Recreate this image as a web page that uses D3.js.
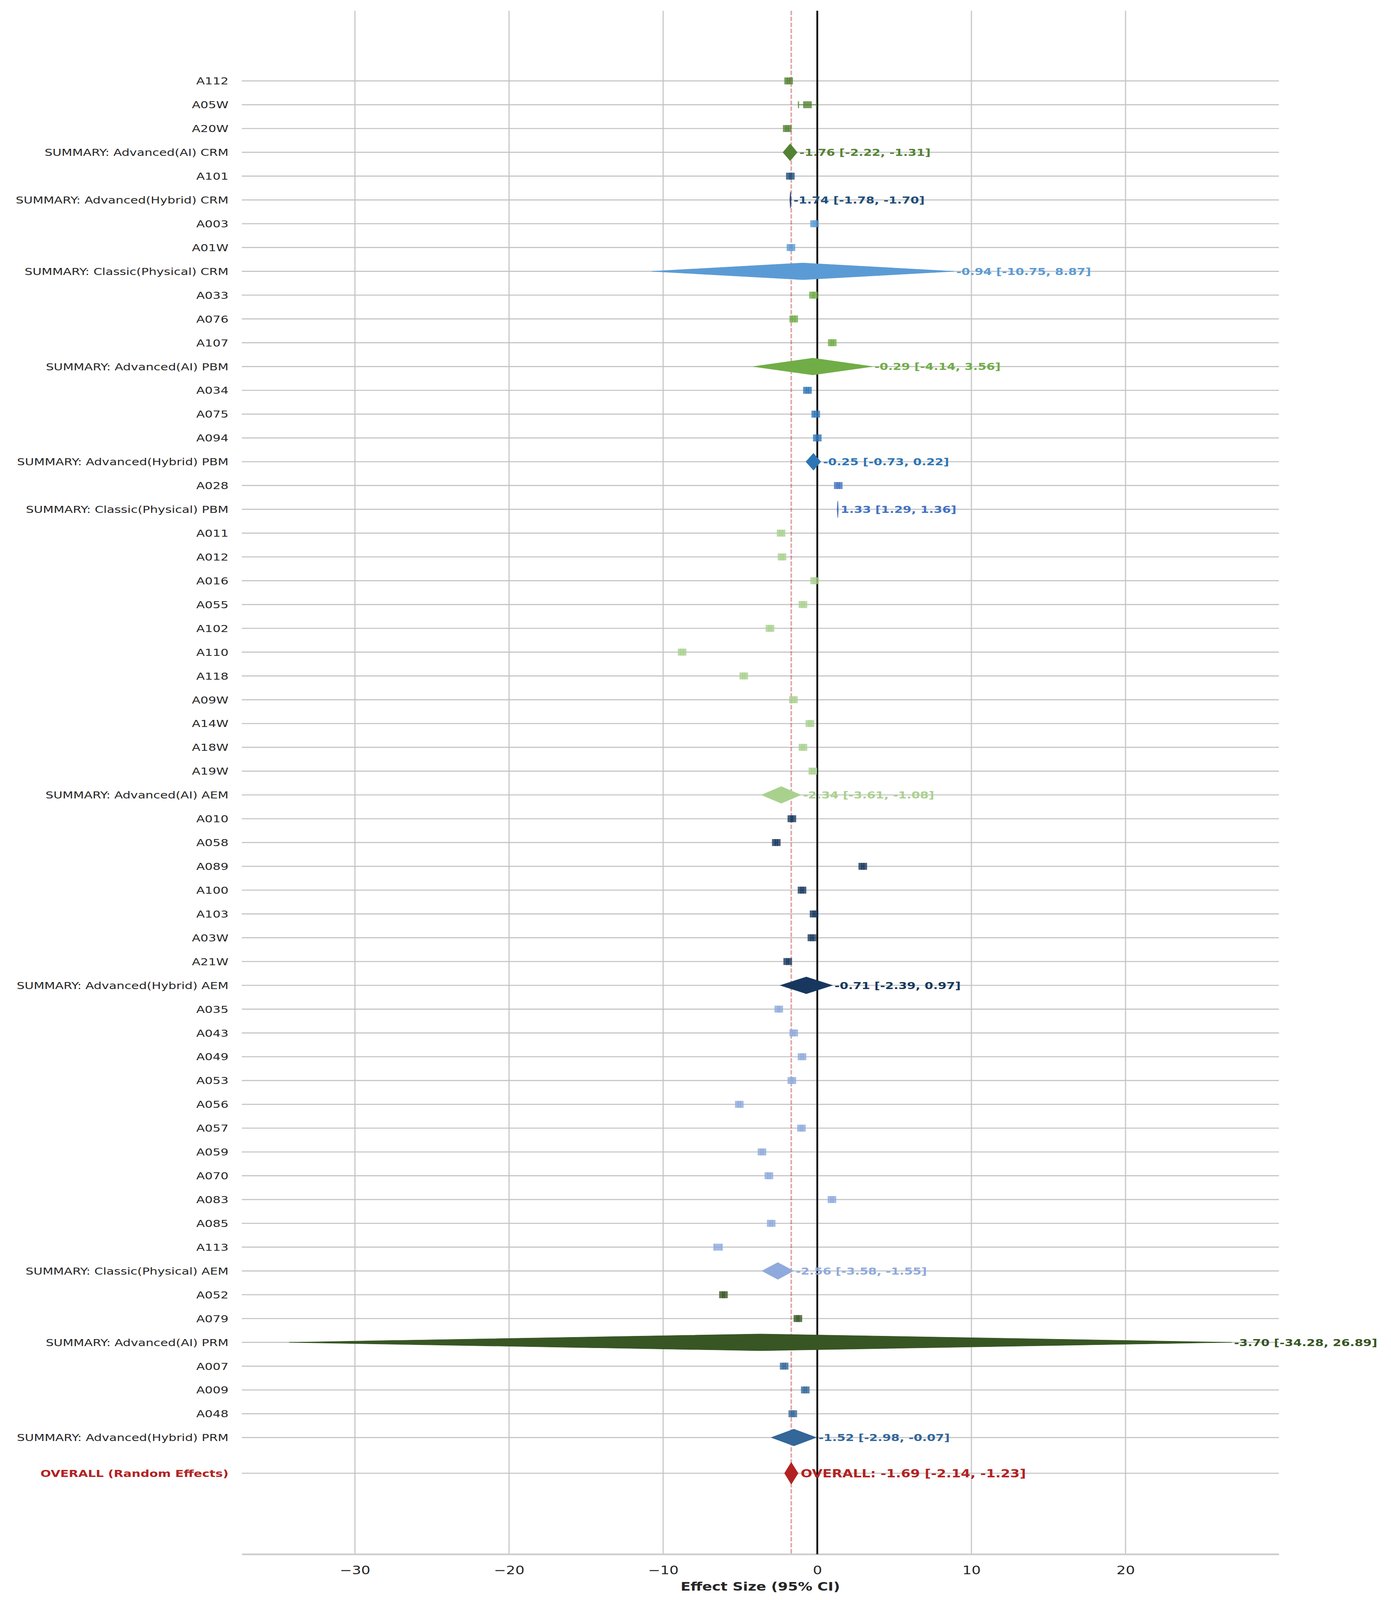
<!DOCTYPE html>
<html>
<head>
<meta charset="utf-8">
<script src="https://cdn.jsdelivr.net/npm/d3@7"></script>
<style>
  html, body { margin: 0; padding: 0; background: #fff; overflow: hidden; }
  svg { display: block; font-family: "DejaVu Sans", sans-serif; }
</style>
</head>
<body>
<div id="chart"></div>
<script>
// rows from top to bottom
var rowLabels = [
  "A112", "A05W", "A20W", "SUMMARY: Advanced(AI) CRM",
  "A101", "SUMMARY: Advanced(Hybrid) CRM",
  "A003", "A01W", "SUMMARY: Classic(Physical) CRM",
  "A033", "A076", "A107", "SUMMARY: Advanced(AI) PBM",
  "A034", "A075", "A094", "SUMMARY: Advanced(Hybrid) PBM",
  "A028", "SUMMARY: Classic(Physical) PBM",
  "A011", "A012", "A016", "A055", "A102", "A110", "A118", "A09W", "A14W", "A18W", "A19W", "SUMMARY: Advanced(AI) AEM",
  "A010", "A058", "A089", "A100", "A103", "A03W", "A21W", "SUMMARY: Advanced(Hybrid) AEM",
  "A035", "A043", "A049", "A053", "A056", "A057", "A059", "A070", "A083", "A085", "A113", "SUMMARY: Classic(Physical) AEM",
  "A052", "A079", "SUMMARY: Advanced(AI) PRM",
  "A007", "A009", "A048", "SUMMARY: Advanced(Hybrid) PRM"
];

var rowGroups = [
  "AI CRM", "AI CRM", "AI CRM", "AI CRM",
  "Hybrid CRM", "Hybrid CRM",
  "Classic CRM", "Classic CRM", "Classic CRM",
  "AI PBM", "AI PBM", "AI PBM", "AI PBM",
  "Hybrid PBM", "Hybrid PBM", "Hybrid PBM", "Hybrid PBM",
  "Classic PBM", "Classic PBM",
  "AI AEM", "AI AEM", "AI AEM", "AI AEM", "AI AEM", "AI AEM", "AI AEM", "AI AEM", "AI AEM", "AI AEM", "AI AEM", "AI AEM",
  "Hybrid AEM", "Hybrid AEM", "Hybrid AEM", "Hybrid AEM", "Hybrid AEM", "Hybrid AEM", "Hybrid AEM", "Hybrid AEM",
  "Classic AEM", "Classic AEM", "Classic AEM", "Classic AEM", "Classic AEM", "Classic AEM", "Classic AEM", "Classic AEM", "Classic AEM", "Classic AEM", "Classic AEM", "Classic AEM",
  "AI PRM", "AI PRM", "AI PRM",
  "Hybrid PRM", "Hybrid PRM", "Hybrid PRM", "Hybrid PRM"
];

var estimates = [
  -1.86, -0.64, -1.95, -1.76,
  -1.75, -1.74,
  -0.18, -1.71, -0.94,
  -0.25, -1.53, 0.97, -0.29,
  -0.64, -0.10, 0.00, -0.25,
  1.36, 1.33,
  -2.35, -2.29, -0.17, -0.93, -3.07, -8.77, -4.77, -1.55, -0.48, -0.93, -0.29, -2.34,
  -1.65, -2.66, 2.95, -0.99, -0.21, -0.35, -1.92, -0.71,
  -2.50, -1.53, -0.99, -1.65, -5.06, -1.03, -3.59, -3.14, 0.95, -2.99, -6.44, -2.56,
  -6.09, -1.26, -3.70,
  -2.15, -0.78, -1.59, -1.52
];

var ciLow = [
  -1.94, -1.22, -2.03, -2.22,
  -1.80, -1.78,
  -0.25, -1.78, -10.75,
  -0.30, -1.62, 0.90, -4.14,
  -0.71, -0.18, -0.06, -0.73,
  1.29, 1.29,
  -2.43, -2.36, -0.24, -1.00, -3.14, -8.85, -4.84, -1.63, -0.55, -1.00, -0.36, -3.61,
  -1.70, -2.73, 2.88, -1.06, -0.27, -0.42, -1.98, -2.39,
  -2.56, -1.60, -1.06, -1.72, -5.13, -1.10, -3.66, -3.21, 0.88, -3.06, -6.70, -3.58,
  -6.15, -1.32, -34.28,
  -2.22, -0.85, -1.65, -2.98
];

var ciHigh = [
  -1.79, -0.05, -1.88, -1.31,
  -1.70, -1.70,
  -0.12, -1.64, 8.87,
  -0.20, -1.45, 1.04, 3.56,
  -0.57, -0.03, 0.06, 0.22,
  1.43, 1.36,
  -2.27, -2.22, -0.10, -0.86, -3.00, -8.69, -4.70, -1.47, -0.41, -0.86, -0.22, -1.08,
  -1.60, -2.59, 3.02, -0.92, -0.15, -0.28, -1.86, 0.97,
  -2.44, -1.46, -0.92, -1.58, -4.99, -0.96, -3.52, -3.07, 1.02, -2.92, -6.18, -1.55,
  -6.03, -1.20, 26.89,
  -2.08, -0.71, -1.53, -0.07
];

var groupNames = ["AI CRM", "Hybrid CRM", "Classic CRM", "AI PBM", "Hybrid PBM", "Classic PBM",
                  "AI AEM", "Hybrid AEM", "Classic AEM", "AI PRM", "Hybrid PRM"];
var groupColors = ["#548235", "#1F4E79", "#5B9BD5", "#70AD47", "#2E75B6", "#4472C4",
                   "#A9D18E", "#17375E", "#8FAADC", "#375623", "#336699"];

var overallLabel = "OVERALL (Random Effects)";
var overall = [-1.69, -2.14, -1.23]; // estimate, low, high

var xTicks = [-30, -20, -10, 0, 10, 20];

// drawing space is the reference size; the svg is fitted to the window
var W = 3561, H = 5079;
var red = "#B22222";
var colorOf = d3.scaleOrdinal().domain(groupNames).range(groupColors);

var rows = rowLabels.map(function(l, i){
  return {label: l, group: rowGroups[i], est: estimates[i], lo: ciLow[i], hi: ciHigh[i],
          summary: l.indexOf("SUMMARY:") === 0, pos: i};
});
var overallPos = rows.length + 0.5;

var x = d3.scaleLinear().domain([-37.34, 29.95]).range([619, 3274]);
var y = d3.scaleLinear().domain([-2.95, 61.9]).range([34, 4933.5]);

var svg = d3.select("#chart").append("svg")
  .attr("width", window.innerWidth || W).attr("height", window.innerHeight || H)
  .attr("viewBox", "0 0 " + W + " " + H)
  .attr("preserveAspectRatio", "none");
svg.append("rect").attr("width", W).attr("height", H).attr("fill", "#fff");

// vertical grid
svg.append("g").selectAll("line").data(xTicks).join("line")
  .attr("x1", function(d){ return x(d); }).attr("x2", function(d){ return x(d); })
  .attr("y1", y.range()[0]).attr("y2", y.range()[1])
  .attr("stroke", "#cccccc").attr("stroke-width", 3.3);

// horizontal grid, one per row
var gridPos = rows.map(function(r){ return r.pos; }).concat([overallPos]);
svg.append("g").selectAll("line").data(gridPos).join("line")
  .attr("x1", x.range()[0]).attr("x2", x.range()[1])
  .attr("y1", function(d){ return y(d); }).attr("y2", function(d){ return y(d); })
  .attr("stroke", "#c2c2c2").attr("stroke-width", 3.3);

// bottom axis
var xAxis = d3.axisBottom(x).tickValues(xTicks).tickSize(0).tickPadding(38)
  .tickFormat(d3.format("d"));
var gx = svg.append("g").attr("transform", "translate(0," + y.range()[1] + ")").call(xAxis);
gx.select(".domain").attr("stroke", "#cccccc").attr("stroke-width", 5.2);
gx.selectAll("text").attr("font-size", 37).attr("fill", "#262626")
  .attr("font-family", "DejaVu Sans");

svg.append("text")
  .attr("x", (x.range()[0] + x.range()[1]) / 2).attr("y", 5049)
  .attr("text-anchor", "middle").attr("font-size", 37).attr("font-weight", "bold")
  .attr("fill", "#262626").text("Effect Size (95% CI)");

// reference lines
svg.append("line")
  .attr("x1", x(0)).attr("x2", x(0)).attr("y1", y.range()[0]).attr("y2", y.range()[1])
  .attr("stroke", "#000").attr("stroke-width", 4.5);
svg.append("line")
  .attr("x1", x(overall[0])).attr("x2", x(overall[0])).attr("y1", y.range()[0]).attr("y2", y.range()[1])
  .attr("stroke", red).attr("stroke-opacity", 0.4).attr("stroke-width", 4)
  .attr("stroke-dasharray", "14,5");

// y labels
svg.append("g").selectAll("text").data(rows).join("text")
  .attr("x", 585).attr("y", function(d){ return y(d.pos); }).attr("dy", "0.36em")
  .attr("text-anchor", "end").attr("font-size", 31.8).attr("fill", "#262626")
  .text(function(d){ return d.label; });
svg.append("text")
  .attr("x", 585).attr("y", y(overallPos)).attr("dy", "0.36em")
  .attr("text-anchor", "end").attr("font-size", 31.8).attr("font-weight", "bold")
  .attr("fill", red).text(overallLabel);

// studies: error bars + squares
var studies = rows.filter(function(r){ return !r.summary; });
var sg = svg.append("g").selectAll("g").data(studies).join("g");
sg.append("line")
  .attr("x1", function(d){ return x(d.lo); }).attr("x2", function(d){ return x(d.hi); })
  .attr("y1", function(d){ return y(d.pos); }).attr("y2", function(d){ return y(d.pos); })
  .attr("stroke", function(d){ return colorOf(d.group); }).attr("stroke-opacity", 0.8)
  .attr("stroke-width", 3);
["lo", "hi"].forEach(function(k){
  sg.append("line")
    .attr("x1", function(d){ return x(d[k]); }).attr("x2", function(d){ return x(d[k]); })
    .attr("y1", function(d){ return y(d.pos) - 11; }).attr("y2", function(d){ return y(d.pos) + 11; })
    .attr("stroke", function(d){ return colorOf(d.group); }).attr("stroke-opacity", 0.8)
    .attr("stroke-width", 3);
});
sg.append("rect")
  .attr("x", function(d){ return x(d.est) - 11; }).attr("y", function(d){ return y(d.pos) - 11; })
  .attr("width", 22).attr("height", 22)
  .attr("fill", function(d){ return colorOf(d.group); }).attr("fill-opacity", 0.8);

// summary diamonds
function diamond(est, lo, hi, pos, half){
  return "M" + x(lo) + "," + y(pos) +
         "L" + x(est) + "," + y(pos - half) +
         "L" + x(hi) + "," + y(pos) +
         "L" + x(est) + "," + y(pos + half) + "Z";
}
var fmt = function(v){ return v.toFixed(2); };
var summaries = rows.filter(function(r){ return r.summary; });
svg.append("g").selectAll("path").data(summaries).join("path")
  .attr("d", function(d){ return diamond(d.est, d.lo, d.hi, d.pos, 0.35); })
  .attr("fill", function(d){ return colorOf(d.group); })
  .attr("stroke", function(d){ return colorOf(d.group); }).attr("stroke-width", 1.5);
svg.append("g").selectAll("text").data(summaries).join("text")
  .attr("x", function(d){ return x(d.hi) + 6; }).attr("y", function(d){ return y(d.pos); })
  .attr("dy", "0.36em").attr("font-size", 31.6).attr("font-weight", "bold")
  .attr("fill", function(d){ return colorOf(d.group); })
  .text(function(d){ return fmt(d.est) + " [" + fmt(d.lo) + ", " + fmt(d.hi) + "]"; });

// overall
svg.append("path")
  .attr("d", diamond(overall[0], overall[1], overall[2], overallPos, 0.47))
  .attr("fill", red);
svg.append("text")
  .attr("x", x(overall[2]) + 6).attr("y", y(overallPos)).attr("dy", "0.36em")
  .attr("font-size", 35).attr("font-weight", "bold").attr("fill", red)
  .text("OVERALL: " + fmt(overall[0]) + " [" + fmt(overall[1]) + ", " + fmt(overall[2]) + "]");
</script>
</body>
</html>
